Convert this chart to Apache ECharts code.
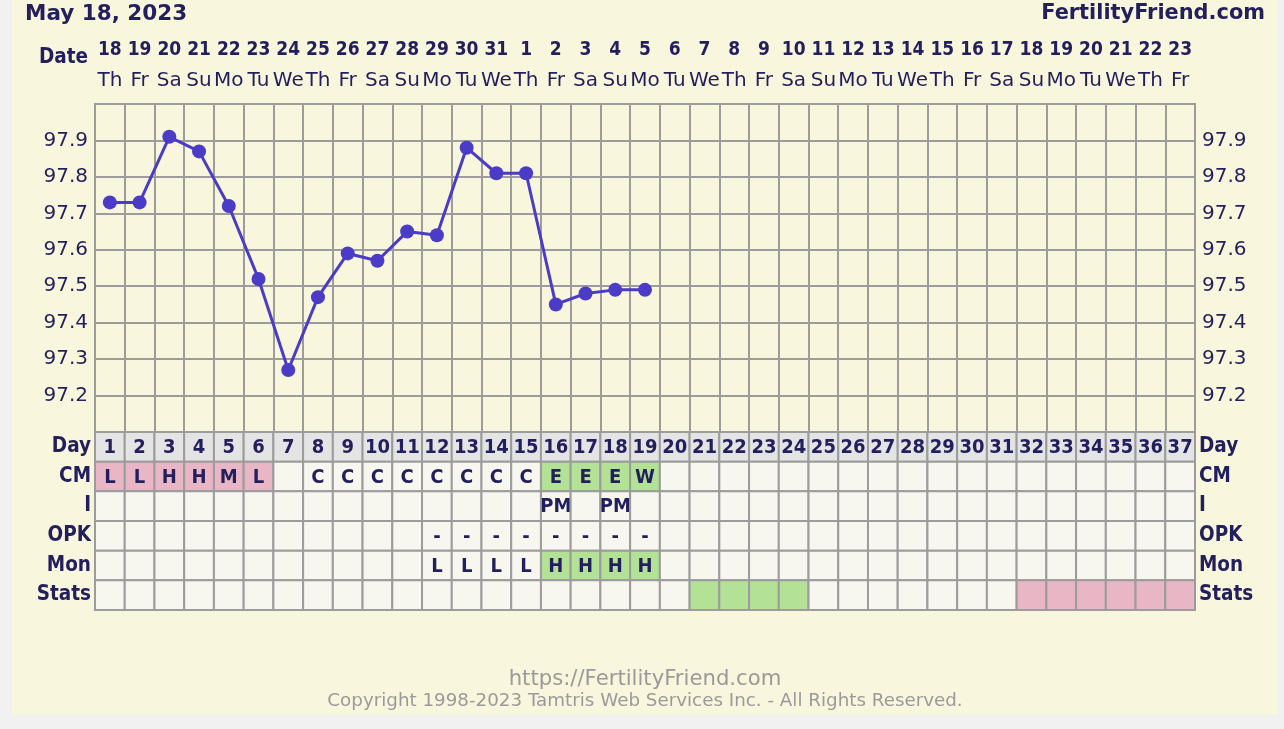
<!DOCTYPE html>
<html><head><meta charset="utf-8">
<script src="https://cdn.jsdelivr.net/npm/echarts@6/dist/echarts.min.js"></script>
<style>
html,body{margin:0;padding:0;background:#f1f1f1;overflow:hidden;}
#panel{position:absolute;left:12px;top:0;width:1266px;height:715px;background:#f8f6dc;}
#chart{position:absolute;left:0;top:0;width:1284px;height:729px;}
</style></head><body><div id="panel"></div><div id="chart"></div>
<script>
// ---- data ----
const dates = ['18','19','20','21','22','23','24','25','26','27','28','29','30','31','1','2','3','4','5','6','7','8','9','10','11','12','13','14','15','16','17','18','19','20','21','22','23'];
const weekdays = ['Th','Fr','Sa','Su','Mo','Tu','We','Th','Fr','Sa','Su','Mo','Tu','We','Th','Fr','Sa','Su','Mo','Tu','We','Th','Fr','Sa','Su','Mo','Tu','We','Th','Fr','Sa','Su','Mo','Tu','We','Th','Fr'];
const temps = [97.73,97.73,97.91,97.87,97.72,97.52,97.27,97.47,97.59,97.57,97.65,97.64,97.88,97.81,97.81,97.45,97.48,97.49,97.49];
const tempTicks = ['97.2','97.3','97.4','97.5','97.6','97.7','97.8','97.9'];
const dayNumbers = ['1','2','3','4','5','6','7','8','9','10','11','12','13','14','15','16','17','18','19','20','21','22','23','24','25','26','27','28','29','30','31','32','33','34','35','36','37'];
const rowLabels = ['Day','CM','I','OPK','Mon','Stats'];
const cmValues  = ['L','L','H','H','M','L','','C','C','C','C','C','C','C','C','E','E','E','W'];
const cmType    = ['period','period','period','period','period','period','','','','','','','','','','fertile','fertile','fertile','fertile'];
const intercourse = ['','','','','','','','','','','','','','','','PM','','PM',''];
const opkValues = ['','','','','','','','','','','','-','-','-','-','-','-','-','-'];
const monValues = ['','','','','','','','','','','','L','L','L','L','H','H','H','H'];
const monType   = ['','','','','','','','','','','','','','','','fertile','fertile','fertile','fertile'];
const statsType = ['','','','','','','','','','','','','','','','','','','','','fertile','fertile','fertile','fertile','','','','','','','','period','period','period','period','period','period'];

// ---- styling ----
const NAVY = '#231f5c';
const GRID = '#9c9c9c';
const typeFill = {period:'#e8b6c4', fertile:'#b3e297'};
const CELL = '#f7f7f0', DAYCELL = '#e4e4e4';
const BOLD = '"DejaVu Sans Condensed","DejaVu Sans",sans-serif';

const cells = [];
for (let c = 0; c < dayNumbers.length; c++) {
  const rows = [
    {t: dayNumbers[c], f: DAYCELL},
    {t: cmValues[c] || '', f: typeFill[cmType[c]] || CELL},
    {t: intercourse[c] || '', f: CELL},
    {t: opkValues[c] || '', f: CELL},
    {t: monValues[c] || '', f: typeFill[monType[c]] || CELL},
    {t: '', f: typeFill[statsType[c]] || CELL}
  ];
  rows.forEach((r, ri) => cells.push({value:[c, ri], t:r.t, f:r.f}));
}

const chart = echarts.init(document.getElementById('chart'), null, {renderer:'canvas'});
const G1 = {left:95, top:104, width:1100, height:328};
const G2 = {left:95, top:432, width:1100, height:178};
const tickFmt = v => { const s = v.toFixed(1); return tempTicks.indexOf(s) >= 0 ? s : ''; };

chart.setOption({
  animation:false,
  backgroundColor:'transparent',
  grid:[
    Object.assign({show:true, backgroundColor:'#f8f6dc', borderColor:GRID, borderWidth:2}, G1),
    Object.assign({show:false}, G2)
  ],
  xAxis:[
    {gridIndex:0, type:'category', data:dayNumbers, boundaryGap:true, position:'bottom',
     axisLine:{show:false}, axisTick:{show:false}, axisLabel:{show:false},
     splitLine:{show:true, interval:0, lineStyle:{color:GRID, width:2}}},
    {gridIndex:0, type:'category', data:weekdays, boundaryGap:true, position:'top',
     axisLine:{show:false}, axisTick:{show:false},
     axisLabel:{interval:0, margin:23, verticalAlign:'middle', color:NAVY, fontSize:20, fontFamily:'"DejaVu Sans",sans-serif'}},
    {gridIndex:0, type:'category', data:dates, boundaryGap:true, position:'top',
     axisLine:{show:false}, axisTick:{show:false},
     axisLabel:{interval:0, margin:54, verticalAlign:'middle', color:NAVY, fontSize:19, fontWeight:'bold', fontFamily:BOLD}},
    {gridIndex:1, type:'category', data:dayNumbers, boundaryGap:true, show:false}
  ],
  yAxis:[
    {gridIndex:0, type:'value', min:97.1, max:98.0, interval:0.1, position:'left',
     axisLine:{show:false}, axisTick:{show:false},
     splitLine:{show:true, lineStyle:{color:GRID, width:2}},
     axisLabel:{margin:7, color:NAVY, fontSize:20, fontFamily:'"DejaVu Sans",sans-serif', formatter:tickFmt}},
    {gridIndex:0, type:'value', min:97.1, max:98.0, interval:0.1, position:'right',
     axisLine:{show:false}, axisTick:{show:false}, splitLine:{show:false},
     axisLabel:{margin:7, color:NAVY, fontSize:20, fontFamily:'"DejaVu Sans",sans-serif', formatter:tickFmt}},
    {gridIndex:1, type:'category', data:rowLabels, inverse:true, position:'left',
     axisLine:{show:false}, axisTick:{show:false}, splitLine:{show:false},
     axisLabel:{margin:4, color:NAVY, fontSize:20.5, fontWeight:'bold', fontFamily:BOLD}},
    {gridIndex:1, type:'category', data:rowLabels, inverse:true, position:'right',
     axisLine:{show:false}, axisTick:{show:false}, splitLine:{show:false},
     axisLabel:{margin:4, color:NAVY, fontSize:20.5, fontWeight:'bold', fontFamily:BOLD}}
  ],
  series:[
    {type:'line', xAxisIndex:0, yAxisIndex:0, data:temps, symbol:'circle', symbolSize:14,
     lineStyle:{color:'#4a3cc6', width:3}, itemStyle:{color:'#4a3cc6'}, z:5},
    {type:'custom', xAxisIndex:3, yAxisIndex:2, data:cells.map(c => c.value), encode:{x:0, y:1},
     renderItem:(params, api) => {
       const cell = cells[params.dataIndex];
       const p = api.coord([api.value(0), api.value(1)]);
       const s = api.size([1, 1]);
       return {type:'group', children:[
         {type:'rect', shape:{x:p[0]-s[0]/2, y:p[1]-s[1]/2, width:s[0], height:s[1]},
          style:{fill:cell.f, stroke:GRID, lineWidth:2}},
         {type:'text', style:{text:cell.t, x:p[0], y:p[1]+1, align:'center', verticalAlign:'middle',
          fill:NAVY, font:'bold 20px ' + BOLD}}
       ]};
     }}
  ],
  graphic:[
    {type:'text', x:25, y:14, style:{text:'May 18, 2023', fill:NAVY, verticalAlign:'middle', font:'bold 21.5px "DejaVu Sans",sans-serif'}},
    {type:'text', x:1265, y:14, style:{text:'FertilityFriend.com', fill:NAVY, align:'right', verticalAlign:'middle', font:'bold 20.9px "DejaVu Sans",sans-serif'}},
    {type:'text', x:88, y:58, style:{text:'Date', fill:NAVY, align:'right', verticalAlign:'middle', font:'bold 20.5px ' + BOLD}},
    {type:'text', x:645, y:679, style:{text:'https://FertilityFriend.com', fill:'#9a9a9a', align:'center', verticalAlign:'middle', font:'21.2px "DejaVu Sans",sans-serif'}},
    {type:'text', x:645, y:701, style:{text:'Copyright 1998-2023 Tamtris Web Services Inc. - All Rights Reserved.', fill:'#9a9a9a', align:'center', verticalAlign:'middle', font:'18.3px "DejaVu Sans",sans-serif'}}
  ]
});
</script></body></html>
